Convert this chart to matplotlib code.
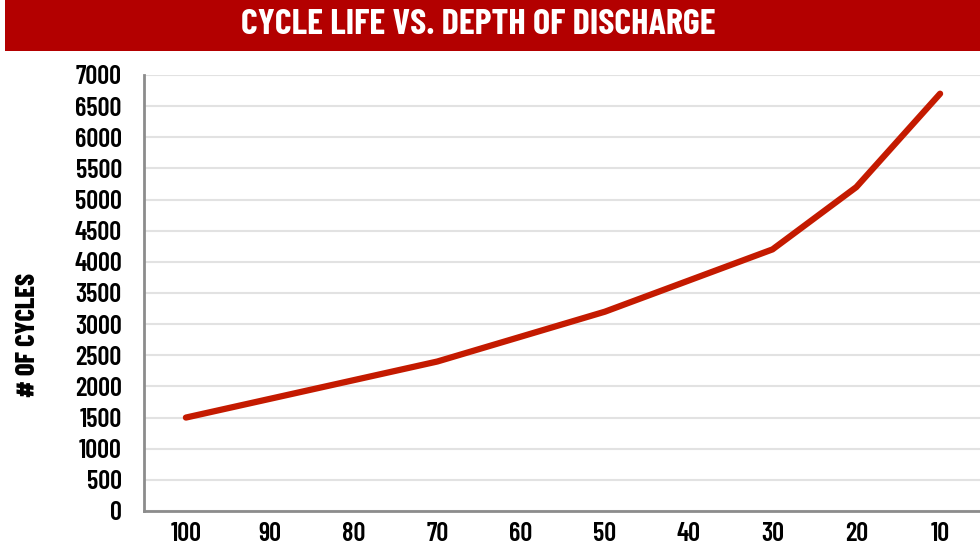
import matplotlib
matplotlib.use('Agg')
import matplotlib.pyplot as plt
from matplotlib.patches import Rectangle
from matplotlib import font_manager

# data
depth = [100, 90, 80, 70, 60, 50, 40, 30, 20, 10]
cycles = [1500, 1800, 2100, 2400, 2800, 3200, 3700, 4200, 5200, 6700]
yticks = list(range(0, 7001, 500))

names = {f.name for f in font_manager.fontManager.ttflist}
narrow = 'DejaVu Sans'
for cand in ['Liberation Sans Narrow', 'Barlow Condensed', 'Archivo Narrow']:
    if cand in names:
        narrow = cand
        break
plt.rcParams['font.family'] = [narrow, 'DejaVu Sans']

fig = plt.figure(figsize=(9.8, 5.52), dpi=100)

# title banner
fig.patches.append(Rectangle((5 / 980, 1 - 51 / 552), 1, 51 / 552, transform=fig.transFigure,
                             facecolor='#b30000', edgecolor='none', zorder=0))
fig.text(478 / 980, 1 - 25 / 552, 'CYCLE LIFE VS. DEPTH OF DISCHARGE', color='white',
         fontsize=26, fontweight='bold', ha='center', va='center')

ax = fig.add_axes([144 / 980, 1 - 511 / 552, 838 / 980, 436 / 552])
ax.plot(depth, cycles, color='#c41a00', lw=4.5, solid_capstyle='round', solid_joinstyle='round')
ax.set_xlim(105, 5)
ax.set_ylim(0, 7000)
ax.set_xticks(depth)
ax.set_xticklabels([str(d) for d in depth])
ax.set_yticks(yticks)
ax.grid(axis='y', color='#e2e2e2', lw=1.5)
ax.set_axisbelow(True)
for s in ['top', 'right']:
    ax.spines[s].set_visible(False)
for s in ['left', 'bottom']:
    ax.spines[s].set_color('#8c8c8c')
    ax.spines[s].set_linewidth(2)
ax.tick_params(length=0, labelsize=19, colors='black')
for lab in ax.get_xticklabels() + ax.get_yticklabels():
    lab.set_fontweight('semibold')
ax.tick_params(axis='y', pad=16)
ax.tick_params(axis='x', pad=8)
fig.text(28 / 980, 1 - 335 / 552, '# OF CYCLES', rotation=90, ha='center', va='center',
         fontsize=19, fontweight='heavy')

fig.savefig('out.png', dpi=100)
